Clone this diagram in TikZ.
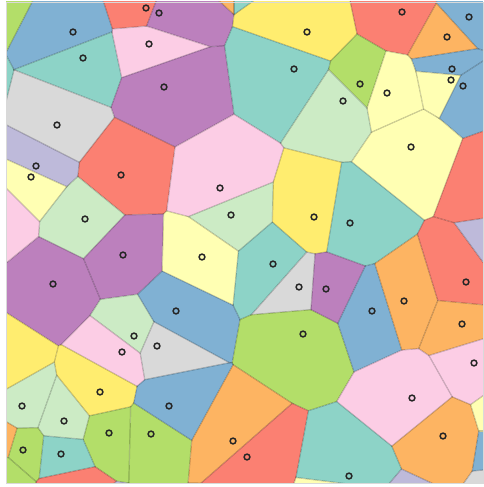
\documentclass[tikz,border=0pt]{standalone}
\definecolor{cT}{HTML}{8DD3C7}
\definecolor{cLY}{HTML}{FFFFB3}
\definecolor{cLV}{HTML}{BEBADA}
\definecolor{cS}{HTML}{FB8072}
\definecolor{cB}{HTML}{80B1D3}
\definecolor{cO}{HTML}{FDB462}
\definecolor{cG}{HTML}{B3DE69}
\definecolor{cP}{HTML}{FCCDE5}
\definecolor{cGr}{HTML}{D9D9D9}
\definecolor{cPu}{HTML}{BC80BD}
\definecolor{cLG}{HTML}{CCEBC5}
\definecolor{cY}{HTML}{FFED6F}
\def\sitelist{73/32/cB/1, 83/58/cT/1, 146/8/cS/1, 159/13/cPu/1, 149/44/cP/1,
 164/87/cPu/1, 57/125/cGr/1, 307/32/cY/1, 294/69/cT/1, 402/12/cS/1,
 469/17/cB/1, 447/37/cO/1, 452/69/cB/1, 451/80/cLY/1, 463/86/cB/1,
 360/84/cG/1, 387/93/cLY/1, 343/101/cLG/1, 36/166/cLV/1, 31/177/cLY/1,
 121/175/cS/1, 85/219/cLG/1, 220/188/cP/1, 231/215/cLG/1, 314/217/cY/1,
 411/147/cLY/1, 350/223/cT/1, 123/255/cPu/1, 53/284/cPu/1, 134/336/cLG/1,
 122/352/cP/1, 157/346/cGr/1, 202/257/cLY/1, 273/264/cT/1, 299/287/cGr/1,
 176/311/cB/1, 303/334/cG/1, 326/289/cPu/1, 372/311/cB/1, 404/301/cO/1,
 466/282/cS/1, 462/324/cO/1, 474/363/cP/1, 22/406/cLG/1, 64/421/cLG/1,
 100/392/cY/1, 109/433/cG/1, 151/434/cG/1, 23/450/cG/1, 61/454/cT/1,
 169/406/cB/1, 233/441/cO/1, 247/457/cS/1, 412/398/cP/1, 443/436/cO/1,
 349/476/cT/1,
 -16/-14/cG/0, -50/98/cT/0, 226/-60/cO/0, 242/-60/cT/0, -5/213/cP/0,
 0/367/cY/0, 0/443/cO/0, 3/473/cG/0, 69/492/cS/0, 95/525/cLV/0,
 232/526/cLV/0, 347/492/cLY/0, 403/522/cLV/0, 515/487/cGr/0, 511/447/cB/0,
 511/415/cLY/0, 507/252/cLV/0, 496/179/cS/0}
\tikzset{
  vedge/.style={draw=black, draw opacity=0.22, line width=1.2pt},
  vsite/.style={draw=black!85, line width=1.5pt},
}
\begin{document}
\begin{tikzpicture}[x=1pt,y=-1pt]
\fill[white] (0,0) rectangle (483,487);
\useasboundingbox (0,0) rectangle (483,487);
\begin{scope}
\clip (6,2) rectangle (483,483);
\foreach \px/\py/\pc/\pv [count=\i] in \sitelist {
  \gdef\qcl{}\gdef\qbl{}
  \foreach \rx/\ry/\rc/\rv [count=\j] in \sitelist {
    \ifnum\i=\j\relax\else
      \pgfmathsetmacro\qdx{\rx-\px}
      \pgfmathsetmacro\qdy{\ry-\py}
      \pgfmathsetmacro\qfar{(abs(\qdx)>240)||(abs(\qdy)>240)}
      \ifdim\qfar pt<0.5pt
        \pgfmathsetmacro\qdd{10*veclen(\qdx/10,\qdy/10)}
        \pgfmathsetmacro\qux{\qdx/\qdd*900}
        \pgfmathsetmacro\quy{\qdy/\qdd*900}
        \pgfmathsetmacro\qmx{(\px+\rx)/2}
        \pgfmathsetmacro\qmy{(\py+\ry)/2}
        \pgfmathsetmacro\qax{\qmx-\quy}
        \pgfmathsetmacro\qay{\qmy+\qux}
        \pgfmathsetmacro\qbx{\qmx+\quy}
        \pgfmathsetmacro\qby{\qmy-\qux}
        \pgfmathsetmacro\qcx{\qbx-\qux}
        \pgfmathsetmacro\qcy{\qby-\quy}
        \pgfmathsetmacro\qex{\qax-\qux}
        \pgfmathsetmacro\qey{\qay-\quy}
        \xdef\qcl{\unexpanded\expandafter{\qcl}\noexpand\clip (\qax,\qay)--(\qbx,\qby)--(\qcx,\qcy)--(\qex,\qey)--cycle;}
        \xdef\qbl{\unexpanded\expandafter{\qbl}\noexpand\draw[vedge] (\qax,\qay)--(\qbx,\qby);}
      \fi
    \fi
  }
  \begin{scope}
    \qcl
    \fill[\pc] (0,0) rectangle (483,487);
    \qbl
  \end{scope}
}
\end{scope}
\foreach \px/\py/\pc/\pv in \sitelist {
  \ifnum\pv=1 \draw[vsite] (\px,\py) circle[radius=2.9];\fi
}
\draw[black!15, line width=0.6pt] (6,2) rectangle (483,483);
\end{tikzpicture}
\end{document}
